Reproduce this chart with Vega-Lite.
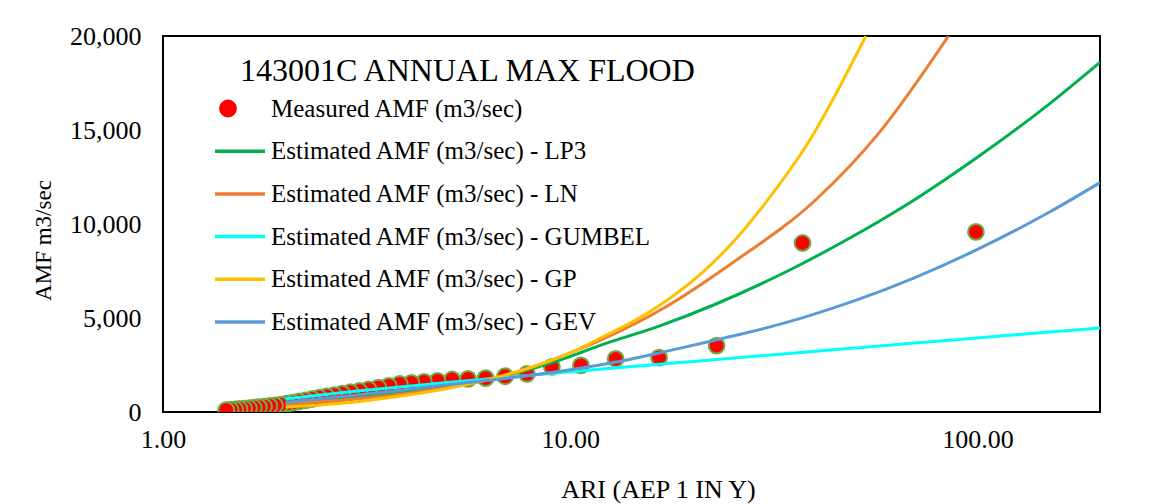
{
  "$schema": "https://vega.github.io/schema/vega-lite/v6.json",
  "width": 937,
  "height": 376,
  "autosize": {"type": "none"},
  "padding": {"left": 163, "top": 36, "right": 58, "bottom": 92},
  "background": "white",
  "title": {
    "text": "143001C ANNUAL MAX FLOOD",
    "anchor": "start",
    "frame": "group",
    "orient": "top",
    "offset": 0,
    "dx": 77,
    "dy": 65,
    "baseline": "top",
    "font": "Liberation Serif",
    "fontSize": 32,
    "fontWeight": "normal",
    "color": "black"
  },
  "config": {
    "view": {"stroke": "black", "strokeWidth": 2},
    "axis": {
      "grid": false,
      "domain": false,
      "ticks": false,
      "labelFont": "Liberation Serif",
      "labelFontSize": 26,
      "labelColor": "black",
      "titleFont": "Liberation Serif",
      "titleFontSize": 26,
      "titleFontWeight": "normal",
      "titleColor": "black"
    }
  },
  "datasets": {
    "measured": [
      {"ari": 99.17, "amf": 9580},
      {"ari": 37.19, "amf": 8990},
      {"ari": 22.88, "amf": 3530},
      {"ari": 16.53, "amf": 2890},
      {"ari": 12.93, "amf": 2830},
      {"ari": 10.625, "amf": 2480},
      {"ari": 9.015, "amf": 2400},
      {"ari": 7.829, "amf": 2030},
      {"ari": 6.919, "amf": 1900},
      {"ari": 6.198, "amf": 1800},
      {"ari": 5.613, "amf": 1760},
      {"ari": 5.129, "amf": 1730},
      {"ari": 4.722, "amf": 1660},
      {"ari": 4.375, "amf": 1600},
      {"ari": 4.075, "amf": 1550},
      {"ari": 3.814, "amf": 1500},
      {"ari": 3.584, "amf": 1390},
      {"ari": 3.38, "amf": 1300},
      {"ari": 3.199, "amf": 1200},
      {"ari": 3.036, "amf": 1120},
      {"ari": 2.888, "amf": 1050},
      {"ari": 2.755, "amf": 980},
      {"ari": 2.633, "amf": 900},
      {"ari": 2.522, "amf": 830},
      {"ari": 2.419, "amf": 760},
      {"ari": 2.324, "amf": 690},
      {"ari": 2.237, "amf": 620},
      {"ari": 2.155, "amf": 560},
      {"ari": 2.08, "amf": 500},
      {"ari": 2.01, "amf": 440},
      {"ari": 1.944, "amf": 390},
      {"ari": 1.883, "amf": 350},
      {"ari": 1.825, "amf": 320},
      {"ari": 1.77, "amf": 290},
      {"ari": 1.719, "amf": 260},
      {"ari": 1.671, "amf": 230},
      {"ari": 1.626, "amf": 200},
      {"ari": 1.582, "amf": 180},
      {"ari": 1.541, "amf": 160},
      {"ari": 1.503, "amf": 140},
      {"ari": 1.466, "amf": 120},
      {"ari": 1.43, "amf": 100}
    ],
    "curves": [
      {"series": "Estimated AMF (m3/sec) - LP3", "ari": 2, "amf": 460},
      {"series": "Estimated AMF (m3/sec) - LP3", "ari": 3, "amf": 760},
      {"series": "Estimated AMF (m3/sec) - LP3", "ari": 4, "amf": 1050},
      {"series": "Estimated AMF (m3/sec) - LP3", "ari": 5, "amf": 1350},
      {"series": "Estimated AMF (m3/sec) - LP3", "ari": 7, "amf": 1950},
      {"series": "Estimated AMF (m3/sec) - LP3", "ari": 10, "amf": 2950},
      {"series": "Estimated AMF (m3/sec) - LP3", "ari": 11.8, "amf": 3530},
      {"series": "Estimated AMF (m3/sec) - LP3", "ari": 16.6, "amf": 4580},
      {"series": "Estimated AMF (m3/sec) - LP3", "ari": 22.8, "amf": 5745},
      {"series": "Estimated AMF (m3/sec) - LP3", "ari": 34.5, "amf": 7540},
      {"series": "Estimated AMF (m3/sec) - LP3", "ari": 48, "amf": 9186},
      {"series": "Estimated AMF (m3/sec) - LP3", "ari": 70.4, "amf": 11320},
      {"series": "Estimated AMF (m3/sec) - LP3", "ari": 100, "amf": 13550},
      {"series": "Estimated AMF (m3/sec) - LP3", "ari": 150, "amf": 16380},
      {"series": "Estimated AMF (m3/sec) - LP3", "ari": 200, "amf": 18600},
      {"series": "Estimated AMF (m3/sec) - LN", "ari": 2, "amf": 430},
      {"series": "Estimated AMF (m3/sec) - LN", "ari": 3, "amf": 700},
      {"series": "Estimated AMF (m3/sec) - LN", "ari": 4, "amf": 1000},
      {"series": "Estimated AMF (m3/sec) - LN", "ari": 5, "amf": 1300},
      {"series": "Estimated AMF (m3/sec) - LN", "ari": 7, "amf": 1950},
      {"series": "Estimated AMF (m3/sec) - LN", "ari": 10, "amf": 3150},
      {"series": "Estimated AMF (m3/sec) - LN", "ari": 11.8, "amf": 3800},
      {"series": "Estimated AMF (m3/sec) - LN", "ari": 17.2, "amf": 5600},
      {"series": "Estimated AMF (m3/sec) - LN", "ari": 24.9, "amf": 7900},
      {"series": "Estimated AMF (m3/sec) - LN", "ari": 40.1, "amf": 11290},
      {"series": "Estimated AMF (m3/sec) - LN", "ari": 57.6, "amf": 14900},
      {"series": "Estimated AMF (m3/sec) - LN", "ari": 84.9, "amf": 20000},
      {"series": "Estimated AMF (m3/sec) - GUMBEL", "ari": 2, "amf": 700},
      {"series": "Estimated AMF (m3/sec) - GUMBEL", "ari": 2.5, "amf": 934},
      {"series": "Estimated AMF (m3/sec) - GUMBEL", "ari": 3, "amf": 1111},
      {"series": "Estimated AMF (m3/sec) - GUMBEL", "ari": 4, "amf": 1373},
      {"series": "Estimated AMF (m3/sec) - GUMBEL", "ari": 5, "amf": 1567},
      {"series": "Estimated AMF (m3/sec) - GUMBEL", "ari": 7, "amf": 1850},
      {"series": "Estimated AMF (m3/sec) - GUMBEL", "ari": 10, "amf": 2142},
      {"series": "Estimated AMF (m3/sec) - GUMBEL", "ari": 15, "amf": 2465},
      {"series": "Estimated AMF (m3/sec) - GUMBEL", "ari": 20, "amf": 2692},
      {"series": "Estimated AMF (m3/sec) - GUMBEL", "ari": 30, "amf": 3009},
      {"series": "Estimated AMF (m3/sec) - GUMBEL", "ari": 50, "amf": 3405},
      {"series": "Estimated AMF (m3/sec) - GUMBEL", "ari": 70, "amf": 3665},
      {"series": "Estimated AMF (m3/sec) - GUMBEL", "ari": 100, "amf": 3939},
      {"series": "Estimated AMF (m3/sec) - GUMBEL", "ari": 150, "amf": 4251},
      {"series": "Estimated AMF (m3/sec) - GUMBEL", "ari": 200, "amf": 4471},
      {"series": "Estimated AMF (m3/sec) - GP", "ari": 2, "amf": 270},
      {"series": "Estimated AMF (m3/sec) - GP", "ari": 3, "amf": 550},
      {"series": "Estimated AMF (m3/sec) - GP", "ari": 4, "amf": 900},
      {"series": "Estimated AMF (m3/sec) - GP", "ari": 5, "amf": 1250},
      {"series": "Estimated AMF (m3/sec) - GP", "ari": 7, "amf": 2000},
      {"series": "Estimated AMF (m3/sec) - GP", "ari": 10, "amf": 3150},
      {"series": "Estimated AMF (m3/sec) - GP", "ari": 11.8, "amf": 3900},
      {"series": "Estimated AMF (m3/sec) - GP", "ari": 15.6, "amf": 5300},
      {"series": "Estimated AMF (m3/sec) - GP", "ari": 20.7, "amf": 7250},
      {"series": "Estimated AMF (m3/sec) - GP", "ari": 24.9, "amf": 8950},
      {"series": "Estimated AMF (m3/sec) - GP", "ari": 30.1, "amf": 11100},
      {"series": "Estimated AMF (m3/sec) - GP", "ari": 38.6, "amf": 14400},
      {"series": "Estimated AMF (m3/sec) - GP", "ari": 53.2, "amf": 20000},
      {"series": "Estimated AMF (m3/sec) - GEV", "ari": 2, "amf": 520},
      {"series": "Estimated AMF (m3/sec) - GEV", "ari": 3, "amf": 900},
      {"series": "Estimated AMF (m3/sec) - GEV", "ari": 4, "amf": 1200},
      {"series": "Estimated AMF (m3/sec) - GEV", "ari": 5, "amf": 1450},
      {"series": "Estimated AMF (m3/sec) - GEV", "ari": 7, "amf": 1800},
      {"series": "Estimated AMF (m3/sec) - GEV", "ari": 10, "amf": 2250},
      {"series": "Estimated AMF (m3/sec) - GEV", "ari": 13.3, "amf": 2700},
      {"series": "Estimated AMF (m3/sec) - GEV", "ari": 17, "amf": 3200},
      {"series": "Estimated AMF (m3/sec) - GEV", "ari": 23.5, "amf": 3900},
      {"series": "Estimated AMF (m3/sec) - GEV", "ari": 30, "amf": 4447},
      {"series": "Estimated AMF (m3/sec) - GEV", "ari": 38, "amf": 5075},
      {"series": "Estimated AMF (m3/sec) - GEV", "ari": 50, "amf": 5922},
      {"series": "Estimated AMF (m3/sec) - GEV", "ari": 70, "amf": 7139},
      {"series": "Estimated AMF (m3/sec) - GEV", "ari": 100, "amf": 8646},
      {"series": "Estimated AMF (m3/sec) - GEV", "ari": 150, "amf": 10624},
      {"series": "Estimated AMF (m3/sec) - GEV", "ari": 200, "amf": 12200}
    ]
  },
  "layer": [
    {
      "data": {"name": "measured"},
      "mark": {"type": "point", "filled": true, "fill": "#FF0000", "stroke": "#70AD47", "strokeWidth": 2, "size": 250, "opacity": 1, "clip": true},
      "encoding": {
        "x": {"field": "ari", "type": "quantitative"},
        "y": {"field": "amf", "type": "quantitative"}
      }
    },
    {
      "data": {"name": "curves"},
      "mark": {"type": "line", "strokeWidth": 3, "interpolate": "monotone", "clip": true},
      "encoding": {
        "x": {
          "field": "ari",
          "type": "quantitative",
          "scale": {"type": "log", "domain": [1, 200], "nice": false},
          "axis": {"values": [1, 10, 100], "format": ".2f", "labelFlush": false, "labelPadding": 14, "labelFont": "Liberation Serif", "labelFontSize": 26, "title": "ARI (AEP 1 IN Y)", "titleFontSize": 26, "titlePadding": 24, "titleX": 495}
        },
        "y": {
          "field": "amf",
          "type": "quantitative",
          "scale": {"domain": [0, 20000], "nice": false},
          "axis": {"values": [0, 5000, 10000, 15000, 20000], "format": ",d", "labelFont": "Liberation Serif", "labelFontSize": 26, "labelPadding": 22, "title": "AMF m3/sec", "titleFontSize": 23, "titlePadding": 14, "titleY": 204}
        },
        "color": {
          "field": "series",
          "type": "nominal",
          "sort": null,
          "scale": {
            "domain": ["Measured AMF (m3/sec)", "Estimated AMF (m3/sec) - LP3", "Estimated AMF (m3/sec) - LN", "Estimated AMF (m3/sec) - GUMBEL", "Estimated AMF (m3/sec) - GP", "Estimated AMF (m3/sec) - GEV"],
            "range": ["#FF0000", "#00B050", "#ED7D31", "#00FFFF", "#FFC000", "#5B9BD5"]
          },
          "legend": {
            "title": null,
            "orient": "none",
            "legendX": 65,
            "legendY": 60,
            "padding": 0,
            "labelFont": "Liberation Serif",
            "labelFontSize": 25,
            "labelColor": "black",
            "labelLimit": 600,
            "symbolSize": 2500,
            "symbolStrokeWidth": 3,
            "labelOffset": 18,
            "rowPadding": 16.7,
            "encode": {
              "symbols": {
                "update": {
                  "fill": {"signal": "datum.value === 'Measured AMF (m3/sec)' ? '#FF0000' : 'transparent'"},
                  "stroke": {"signal": "datum.value === 'Measured AMF (m3/sec)' ? '#70AD47' : scale('color', datum.value)"},
                  "strokeWidth": {"signal": "datum.value === 'Measured AMF (m3/sec)' ? 2 : 3.5"},
                  "size": {"signal": "datum.value === 'Measured AMF (m3/sec)' ? 250 : 2500"},
                  "shape": {"signal": "datum.value === 'Measured AMF (m3/sec)' ? 'circle' : 'stroke'"},
                  "x": {"signal": "datum.value === 'Measured AMF (m3/sec)' ? 0 : 12"},
                  "opacity": {"value": 1}
                }
              }
            }
          }
        }
      }
    }
  ]
}
